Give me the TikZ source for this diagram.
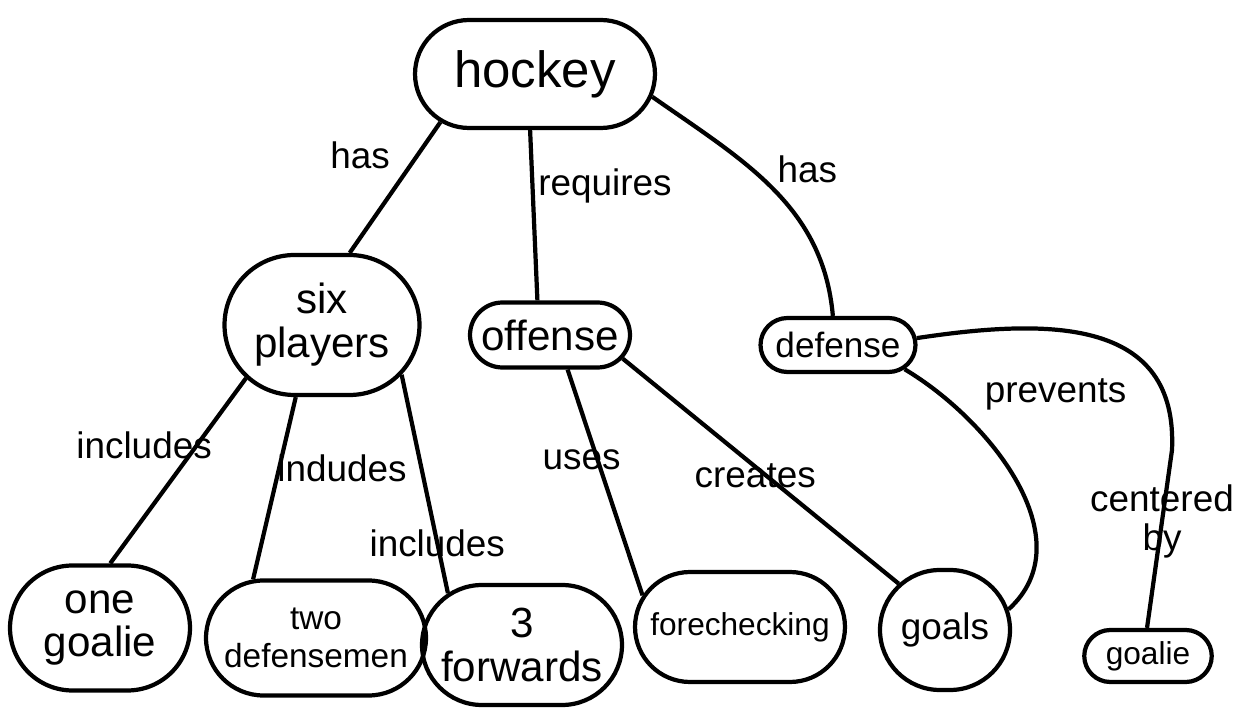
\documentclass[tikz,border=0pt]{standalone}
\usepackage{fontspec}
\setmainfont{Liberation Sans}
\usetikzlibrary{shapes.misc, positioning}

\begin{document}
\begin{tikzpicture}[x=0.02cm, y=-0.02cm, line width=2.4pt]
    \tikzstyle{concept}=[rounded rectangle, draw, line width=2.4pt, inner sep=0pt, align=center, font=\fontsize{24}{25}\selectfont]
    \tikzstyle{link}=[inner sep=1pt, font=\fontsize{21}{22}\selectfont]

    \useasboundingbox (0,0) rectangle (1251,712);

    \node[concept, minimum width=4.8cm, minimum height=2.16cm, font=\fontsize{29}{30}\selectfont] (hockey) at (535,74) {hockey};

    \node[concept, minimum width=3.9cm, minimum height=2.8cm] (six) at (322,325) {six\\players};
    \node[concept, minimum width=3.2cm, minimum height=1.3cm] (offense) at (550,335) {offense};
    \node[concept, minimum width=3.1cm, minimum height=1.08cm, font=\fontsize{20}{21}\selectfont] (defense) at (838,345) {defense};

    \node[concept, minimum width=3.6cm, minimum height=2.5cm] (one) at (100,628) {one\\goalie};
    \node[concept, minimum width=4.4cm, minimum height=2.3cm, font=\fontsize{19}{22}\selectfont] (two) at (316,638) {two\\defensemen};
    \node[concept, minimum width=4.0cm, minimum height=2.4cm] (forwards) at (522,645) {3\\forwards};
    \node[concept, minimum width=4.2cm, minimum height=2.2cm, font=\fontsize{18}{20}\selectfont] (fore) at (740,627) {forechecking};
    \node[concept, minimum width=2.6cm, minimum height=2.4cm, font=\fontsize{21}{22}\selectfont] (goals) at (945,630) {goals};
    \node[concept, minimum width=2.55cm, minimum height=1.04cm, font=\fontsize{18}{20}\selectfont] (goalie) at (1148,656) {goalie};

    \draw (hockey.207) -- node[link, pos=0.25, xshift=-1.15cm] {has} (six.69);
    \draw (hockey.265) -- node[link, pos=0.33, xshift=1.45cm] {requires} (offense.110);
    \draw (hockey.-11) to[out=-35, in=95] node[link, pos=0.4, xshift=1.1cm] {has} (defense.100);

    \draw (six.215) -- node[link, pos=0.36, xshift=-1.06cm] {includes} (one.81);
    \draw (six.250) -- node[link, pos=0.39, xshift=1.26cm] {indudes} (two.137);
    \draw (six.-32) -- node[link, pos=0.77] {includes} (forwards.145);

    \draw (offense.-63) -- node[link, pos=0.4, xshift=-0.32cm] {uses} (fore.162);
    \draw (offense.-18) -- node[link, pos=0.52, xshift=-0.22cm] {creates} (goals.135);

    \draw (defense.-20) .. controls (990,420) and (1085,540) .. node[link, pos=0.14, xshift=2.3cm] {prevents} (goals.18);
    \draw (defense.5) .. controls (1050,318) and (1178,318) .. (1172,450)
        -- node[link, pos=0.4, align=center] {centered\\by} (goalie.92);
\end{tikzpicture}
\end{document}
